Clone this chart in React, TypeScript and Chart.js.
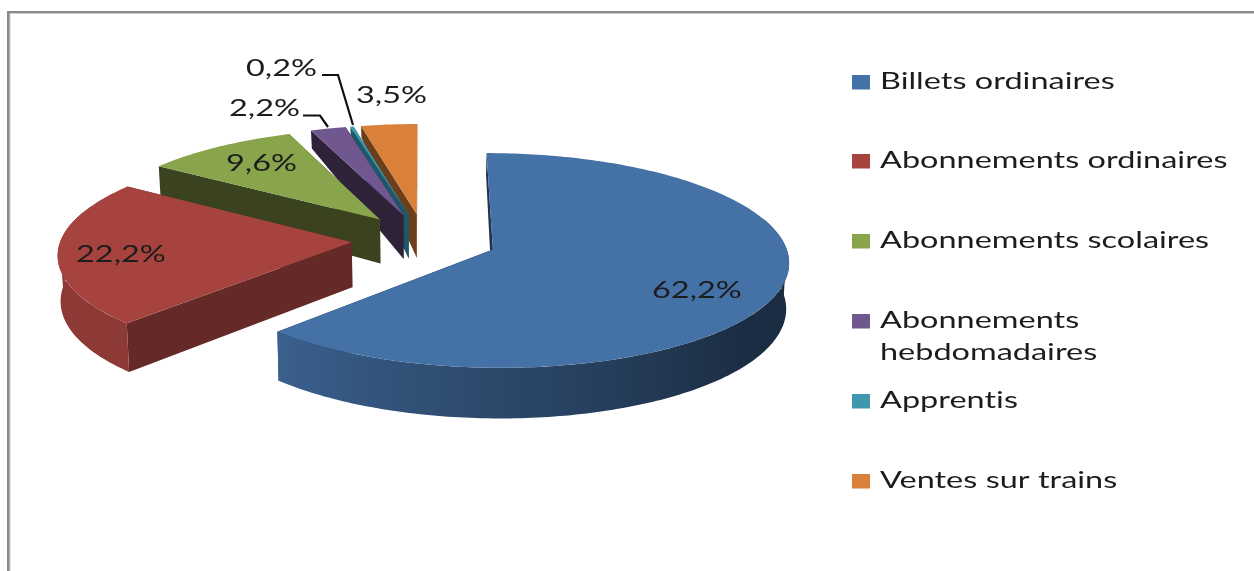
import React, { useEffect, useRef } from "react";
import { Chart, registerables } from "chart.js";

Chart.register(...registerables);

const categories = ["Billets ordinaires", "Abonnements ordinaires", "Abonnements scolaires", "Abonnements hebdomadaires", "Apprentis", "Ventes sur trains"];
const shares = [62.2, 22.2, 9.6, 2.2, 0.2, 3.5];
const topColors = ["#4471A6", "#A6433F", "#88A54C", "#71578F", "#3F97AE", "#D9803A"];
const sideColors = ["#1F3350", "#652A28", "#3A421F", "#2E2239", "#1E5868", "#6B3F1B"];
const legendLines = [["Billets ordinaires"], ["Abonnements ordinaires"], ["Abonnements scolaires"], ["Abonnements", "hebdomadaires"], ["Apprentis"], ["Ventes sur trains"]];

const VIEW = { cx: 424.6, cy: 239.5, tilt: 0.358, persp: 0.00035, depth: 45, shrink: 0.008 };
const FONT = "22.5px Lato";
const STRETCH = 1.44;
const TEXT_COLOR = "#1c1c1c";

// Drop of the bottom disc under a top-face point; it fades towards the far rim, as in the reference's perspective.
const drop = (u: number, v: number) => {
  const t = Math.min(1, Math.max(0, (-v - 73) / 290));
  const fade = Math.max(0, 0.89 - (Math.abs(u) / 130) * 0.3);
  return VIEW.depth * (1 - t * fade);
};

const project = (u: number, v: number, bottom = false) => {
  const s = 1 / (1 - VIEW.persp * v);
  const z = bottom ? drop(u, v) : 0;
  const c = bottom ? 1 - VIEW.shrink : 1;
  return [VIEW.cx + u * s * c, VIEW.cy + VIEW.tilt * v * s + z * s];
};

const rgb = (hex: string) => [1, 3, 5].map((i) => parseInt(hex.slice(i, i + 2), 16));

const wallShade = (a: number) => {
  const t = ((a + Math.PI / 2) * 180) / Math.PI;
  const f = 0.4 + ((t - 130) / 94) * 0.45;
  return Math.min(0.85, Math.max(0.4, f));
};

const pie3d = {
  id: "pie3d",
  beforeDatasetsDraw(chart: any) {
    const { ctx } = chart;
    const arcs = chart.getDatasetMeta(0).data;
    const order = [5, 4, 3, 2, 1, 0];
    for (const i of order) {
      const arc = arcs[i];
      const { startAngle, endAngle, outerRadius } = arc;
      const offset = arc.options.offset;
      const mid = (startAngle + endAngle) / 2;
      const ax = offset * Math.cos(mid);
      const ay = offset * Math.sin(mid);
      const rim = (a: number) => [ax + outerRadius * Math.cos(a), ay + outerRadius * Math.sin(a)];
      const sample = (lo: number, hi: number) => {
        const n = Math.max(2, Math.ceil(((hi - lo) * 180) / Math.PI));
        return Array.from({ length: n + 1 }, (_, k) => lo + ((hi - lo) * k) / n);
      };
      const fillPoly = (p: number[][], color: any) => {
        ctx.beginPath();
        p.forEach((q, j) => (j ? ctx.lineTo(q[0], q[1]) : ctx.moveTo(q[0], q[1])));
        ctx.closePath();
        ctx.fillStyle = color;
        ctx.fill();
      };
      const side = sideColors[i];
      const [fx, fy] = rim(startAngle);
      const [lx, ly] = rim(endAngle);
      // radial walls
      fillPoly([project(ax, ay), project(lx, ly), project(lx, ly, true), project(ax, ay, true)], side);
      fillPoly([project(ax, ay), project(fx, fy), project(fx, fy, true), project(ax, ay, true)], side);
      // curved wall, front half plus a little past each side so the silhouette stays closed
      const lo = Math.max(startAngle, -0.3);
      const hi = Math.min(endAngle, Math.PI + 0.3);
      const base = rgb(arc.options.backgroundColor);
      const shadeOf = (a: number) => `rgb(${base.map((c) => Math.round(c * wallShade(a))).join(",")})`;
      if (i < 2 && hi > lo) {
        const angles = sample(lo, hi);
        const top = angles.map((a) => project(rim(a)[0], rim(a)[1]));
        const bot = angles.map((a) => project(rim(a)[0], rim(a)[1], true));
        const xs = top.map((p) => p[0]);
        const x0 = Math.min(...xs);
        const x1 = Math.max(...xs);
        const grad = ctx.createLinearGradient(x0, 0, x1, 0);
        angles.forEach((a, k) => grad.addColorStop((xs[k] - x0) / Math.max(1, x1 - x0), shadeOf(a)));
        fillPoly([...top, ...bot.reverse()], grad);
        // tangent closing the gap between the top rim and the bottom rim at the widest points
        [[0, 0.35], [Math.PI, Math.PI - 0.35]].forEach(([a, b]) => {
          if (a > startAngle && a < endAngle) {
            fillPoly([project(rim(a)[0], rim(a)[1]), project(rim(a)[0], rim(a)[1], true), project(rim(b)[0], rim(b)[1], true), project(rim(b)[0], rim(b)[1])], shadeOf(a));
          }
        });
      }
      // top face
      const face = [project(ax, ay), ...sample(startAngle, endAngle).map((a) => project(rim(a)[0], rim(a)[1]))];
      fillPoly(face, arc.options.backgroundColor);
    }
    return false;
  },
};

const drawText = (ctx: any, text: string, x: number, y: number) => {
  ctx.save();
  ctx.filter = "blur(0.5px)";
  ctx.font = FONT;
  ctx.letterSpacing = "0.02px";
  ctx.fillStyle = TEXT_COLOR;
  ctx.textAlign = "left";
  ctx.textBaseline = "alphabetic";
  ctx.translate(x, y);
  ctx.scale(STRETCH, 1);
  ctx.fillText(text, 0, 0);
  ctx.restore();
};

const labelAnchors = [[652, 298], [76, 262], [226, 171], [229, 116], [246, 76], [356, 103]];
const leaders = [[], [], [], [[303, 115.5], [320, 115.5], [328, 127]], [[322, 75], [338, 75], [353, 125]], []];
const legendRows = [89, 168, 248, 328, 408, 488];

const overlay = {
  id: "overlay",
  afterDraw(chart: any) {
    const { ctx } = chart;
    ctx.save();
    // frame
    ctx.fillStyle = "#D0D0D0";
    ctx.fillRect(9, 13, 1245, 1);
    ctx.fillRect(9, 13, 1.5, 558);
    ctx.fillStyle = "#8A8A8A";
    ctx.fillRect(7, 11, 1247, 2);
    ctx.fillRect(7, 11, 2.5, 560);
    // data labels and leader lines
    chart.data.datasets[0].data.forEach((v: number, i: number) => {
      const [x, y] = labelAnchors[i];
      drawText(ctx, v.toFixed(1).replace(".", ",") + "%", x, y);
      const l = leaders[i];
      if (l.length) {
        ctx.beginPath();
        l.forEach((p: number[], j: number) => (j ? ctx.lineTo(p[0], p[1]) : ctx.moveTo(p[0], p[1])));
        ctx.strokeStyle = "#111";
        ctx.lineWidth = 2.2;
        ctx.stroke();
      }
    });
    // legend
    chart.data.labels.forEach((_: string, i: number) => {
      const y = legendRows[i];
      ctx.fillStyle = chart.data.datasets[0].backgroundColor[i];
      ctx.fillRect(852, y - 14, 18, 14.5);
      legendLines[i].forEach((line, j) => drawText(ctx, line, 880, y + j * 32));
    });
    ctx.restore();
  },
};

export default function App() {
  const ref = useRef<HTMLCanvasElement>(null);
  useEffect(() => {
    const chart = new Chart(ref.current!, {
      type: "pie",
      data: {
        labels: categories,
        datasets: [{ data: shares, backgroundColor: topColors, borderWidth: 0, offset: 73 }],
      },
      options: {
        animation: false,
        responsive: false,
        radius: 291,
        plugins: { legend: { display: false }, tooltip: { enabled: false } },
      },
      plugins: [pie3d, overlay],
    } as any);
    return () => chart.destroy();
  }, []);
  return (
    <div style={{ position: "fixed", left: 0, top: 0, width: 1254, height: 571, overflow: "hidden", background: "#fff" }}>
      <canvas ref={ref} width={1254} height={571} style={{ display: "block" }} />
    </div>
  );
}
